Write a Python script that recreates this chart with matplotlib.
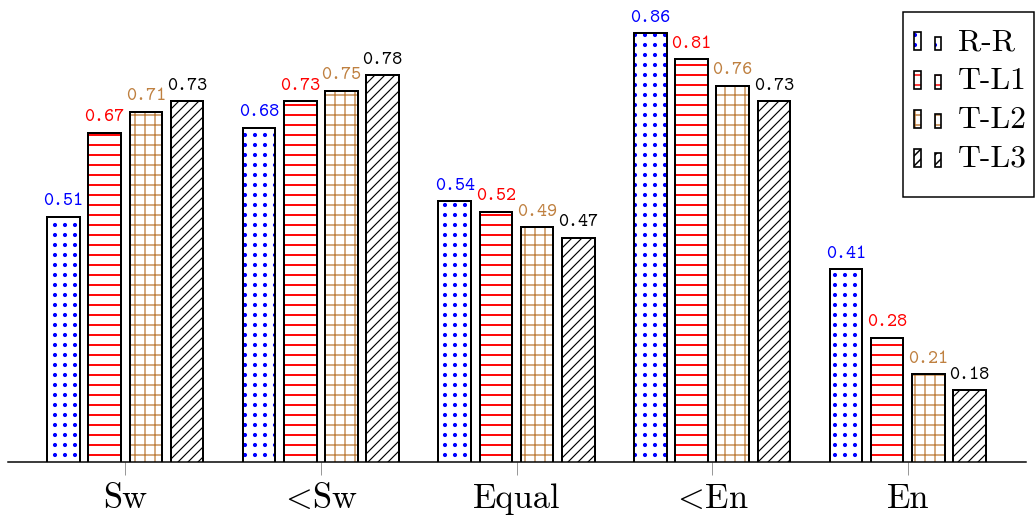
import numpy as np
import matplotlib
matplotlib.use('Agg')
import matplotlib.pyplot as plt
import matplotlib.hatch as mhatch
from matplotlib.path import Path
from matplotlib.patches import Rectangle
from matplotlib.legend_handler import HandlerBase

# ---------------- data ----------------
categories = ['Sw', '<Sw', 'Equal', '<En', 'En']
tick_labels = ['Sw', r'$\!<\!$Sw', 'Equal', r'$\!<\!$En', 'En']
series_names = ['R-R', 'T-L1', 'T-L2', 'T-L3']
rr_values = [0.51, 0.68, 0.54, 0.86, 0.41]
tl1_values = [0.67, 0.73, 0.52, 0.81, 0.28]
tl2_values = [0.71, 0.75, 0.49, 0.76, 0.21]
tl3_values = [0.73, 0.78, 0.47, 0.73, 0.18]

# ---------------- styles ----------------
colors = ['#0000FF', '#FF0000', '#BF8040', '#000000']
hatches = ['..', '--', '++', '////']
hatch_lws = [0.9, 1.15, 0.8, 0.7]


# aligned (non-staggered) dot grid for the '.' hatch, like pgfplots "dots"
class AlignedDots(mhatch.SmallFilledCircles):
    size = 0.13
    filled = True

    def __init__(self, hatch, density):
        path = Path.unit_circle()
        self.shape_vertices = path.vertices
        self.shape_codes = path.codes
        self.num_rows = hatch.count('.') * density
        if self.num_rows == 0:
            self.num_shapes = 0
            self.num_vertices = 0
        else:
            self.num_shapes = self.num_rows * self.num_rows
            self.num_vertices = self.num_shapes * len(self.shape_vertices)

    def set_vertices_and_codes(self, vertices, codes):
        offset = 1.0 / self.num_rows
        sv = self.shape_vertices * offset * self.size
        vparts, cparts = [], []
        for r in range(self.num_rows):
            for c in range(self.num_rows):
                vparts.append(sv + [(c + 0.5) * offset, (r + 0.5) * offset])
                cparts.append(self.shape_codes)
        np.concatenate(vparts, out=vertices)
        np.concatenate(cparts, out=codes)


mhatch._hatch_types = [AlignedDots if t is mhatch.SmallFilledCircles else t
                       for t in mhatch._hatch_types]

DPI = 120
W, H = 1035, 520
plt.rcParams['font.family'] = 'cmr10'
plt.rcParams['mathtext.fontset'] = 'cm'
plt.rcParams['axes.formatter.use_mathtext'] = True
plt.rcParams['hatch.linewidth'] = 0.9

fig = plt.figure(figsize=(W / DPI, H / DPI), dpi=DPI)
ax = fig.add_axes([8.3 / W, 1 - 461.5 / H, (1025.7 - 8.3) / W, 461.5 / H])

all_values = [rr_values, tl1_values, tl2_values, tl3_values]
x = np.arange(len(categories))
pitch = 0.2107
width = 0.167
offsets = (np.arange(len(series_names)) - 1.5) * pitch


def set_hlw(patches, lw):
    for p in patches:
        if hasattr(p, 'set_hatch_linewidth'):
            p.set_hatch_linewidth(lw)


for vals, off, col, hat, hlw in zip(all_values, offsets, colors, hatches, hatch_lws):
    with plt.rc_context({'hatch.linewidth': hlw}):
        bars = ax.bar(x + off, vals, width, facecolor='white', edgecolor=col,
                      linewidth=0, hatch=hat, zorder=1)
    set_hlw(bars, hlw)
    ax.bar(x + off, vals, width, facecolor='none', edgecolor='black',
           linewidth=1.2, zorder=1.5)
    for xi, v in zip(x + off, vals):
        ax.annotate(f'{v:.2f}', (xi, v), xytext=(0, 6.8), textcoords='offset points',
                    ha='center', va='baseline', color=col,
                    fontfamily='cmtt10', fontsize=11.5)

ax.set_xlim(-0.598, 4.603)
ax.set_ylim(0.0438, 0.9229)
for s in ['top', 'right', 'left']:
    ax.spines[s].set_visible(False)
ax.spines['bottom'].set_linewidth(0.9)
ax.set_yticks([])
ax.set_xticks(x)
ax.set_xticklabels(tick_labels, fontsize=20.7)
ax.tick_params(axis='x', length=8, width=0.6, color='#999999', pad=5)


class TwoBarHandler(HandlerBase):
    def create_artists(self, legend, orig_handle, xdescent, ydescent,
                       width, height, fontsize, trans):
        col = orig_handle.get_edgecolor()
        hat = orig_handle.get_hatch()
        arts = []
        for (x0, x1, hh) in [(0.0, 0.26, 0.56), (0.78, 1.0, 0.43)]:
            rx = -xdescent + x0 * width
            rw = (x1 - x0) * width
            rh = hh * fontsize
            p1 = Rectangle((rx, -ydescent), rw, rh, facecolor='white',
                           edgecolor=col, linewidth=0, hatch=hat, transform=trans)
            p2 = Rectangle((rx, -ydescent), rw, rh, facecolor='none',
                           edgecolor='black', linewidth=1.0, transform=trans)
            arts += [p1, p2]
        return arts


proxies = [Rectangle((0, 0), 1, 1, facecolor='white', edgecolor=c, hatch=h)
           for c, h in zip(colors, hatches)]
leg = fig.legend(proxies, series_names, loc='upper left',
                 bbox_to_anchor=(914 / W, 1 - 28 / H),
                 bbox_transform=fig.transFigure, borderaxespad=0,
                 fontsize=19, handlelength=0.85, handletextpad=0.54,
                 borderpad=0, labelspacing=0.34, frameon=False,
                 handler_map={Rectangle: TwoBarHandler()})

# legend frame (pgfplots style: square, thin black border)
fig.patches.append(Rectangle((903 / W, 1 - 196.7 / H), (1034 - 903) / W,
                             (196.7 - 12.3) / H, transform=fig.transFigure,
                             facecolor='none', edgecolor='black', linewidth=0.9,
                             zorder=0))

fig.savefig('out.png', dpi=DPI)
